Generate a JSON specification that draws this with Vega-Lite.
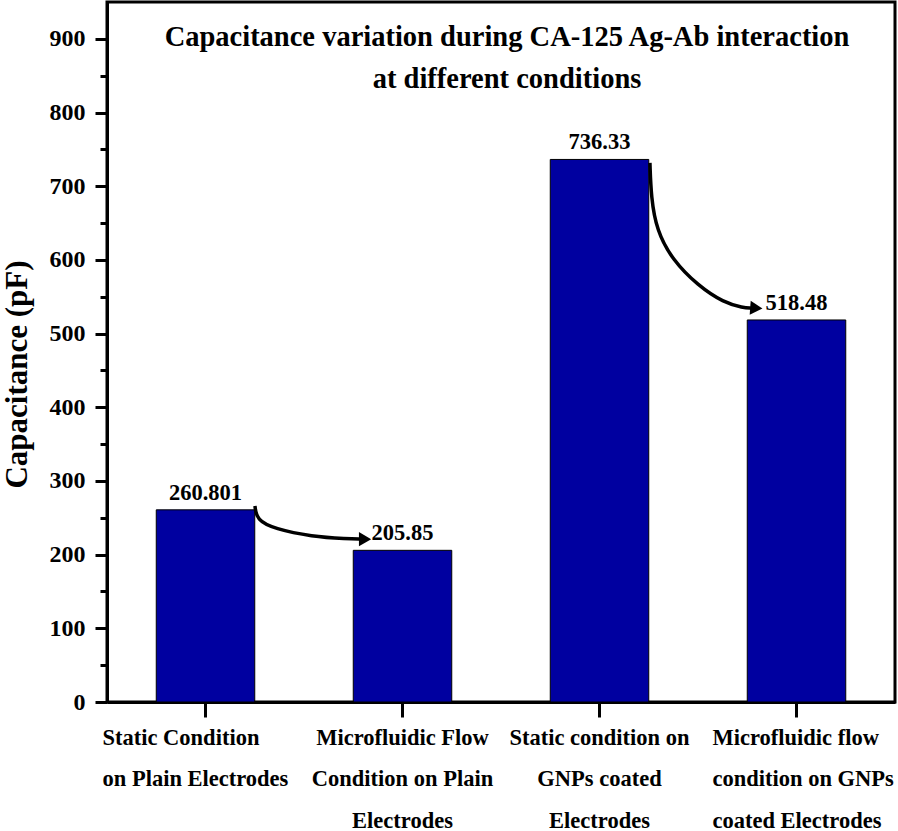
{
  "$schema": "https://vega.github.io/schema/vega-lite/v6.json",
  "width": 788,
  "height": 700,
  "autosize": {"type": "none"},
  "padding": {"left": 107, "top": 2, "right": 3, "bottom": 129},
  "background": "white",
  "config": {
    "font": "Liberation Serif",
    "view": {"stroke": "black", "strokeWidth": 3},
    "axis": {"domainColor": "black", "tickColor": "black", "labelColor": "black", "titleColor": "black", "grid": false}
  },
  "title": {
    "text": ["Capacitance variation during CA-125 Ag-Ab interaction", "at different conditions"],
    "font": "Liberation Serif",
    "fontSize": 28.5,
    "fontWeight": "bold",
    "lineHeight": 42,
    "color": "black",
    "anchor": "middle",
    "baseline": "bottom",
    "offset": -120,
    "dx": 6
  },
  "datasets": {
    "bars": [
      {"cond": "Static Condition|on Plain Electrodes", "cap": 260.801, "label": "260.801"},
      {"cond": "Microfluidic Flow|Condition on Plain|Electrodes", "cap": 205.85, "label": "205.85"},
      {"cond": "Static condition on|GNPs coated|Electrodes", "cap": 736.33, "label": "736.33"},
      {"cond": "Microfluidic flow|condition on GNPs|coated Electrodes", "cap": 518.48, "label": "518.48"}
    ],
    "arrows": [
      {"arrow": "A", "ax": 0.751, "ay": 266},
      {"arrow": "A", "ax": 0.76, "ay": 247},
      {"arrow": "A", "ax": 0.85, "ay": 235},
      {"arrow": "A", "ax": 1.04, "ay": 224.5},
      {"arrow": "A", "ax": 1.22, "ay": 221.5},
      {"arrow": "A", "ax": 1.29, "ay": 221},
      {"arrow": "B", "ax": 2.756, "ay": 731.6},
      {"arrow": "B", "ax": 2.762, "ay": 685},
      {"arrow": "B", "ax": 2.79, "ay": 640},
      {"arrow": "B", "ax": 2.87, "ay": 600},
      {"arrow": "B", "ax": 3.0, "ay": 565},
      {"arrow": "B", "ax": 3.13, "ay": 542},
      {"arrow": "B", "ax": 3.23, "ay": 535},
      {"arrow": "B", "ax": 3.27, "ay": 534.5}
    ],
    "heads": [
      {"arrow": "A", "ax": 1.31, "ay": 221, "ang": 0},
      {"arrow": "B", "ax": 3.296, "ay": 534.5, "ang": 4}
    ]
  },
  "layer": [
    {
      "data": {"name": "bars"},
      "mark": {"type": "bar", "color": "#0000A0", "stroke": "black", "strokeWidth": 1},
      "encoding": {
        "x": {
          "field": "cond", "type": "nominal", "sort": null,
          "scale": {"paddingInner": 0.5, "paddingOuter": 0.25},
          "axis": {
            "title": null, "tickSize": 15, "tickWidth": 3, "domainWidth": 3,
            "labelFont": "Liberation Serif", "labelFontSize": 22.5, "labelFontWeight": "bold",
            "labelLineHeight": 41.5, "labelPadding": 9, "labelAngle": 0, "labelBaseline": "top",
            "labelLimit": 0, "labelExpr": "split(datum.label, '|')",
            "labelAlign": {"condition": {"test": "indexof(datum.value, 'Static Condition') == 0 || indexof(datum.value, 'Microfluidic flow') == 0", "value": "left"}, "value": "center"},
            "labelOffset": {"condition": [{"test": "indexof(datum.value, 'Static Condition') == 0", "value": -103}, {"test": "indexof(datum.value, 'Microfluidic flow') == 0", "value": -84}], "value": 0}
          }
        },
        "y": {
          "field": "cap", "type": "quantitative",
          "scale": {"domain": [0, 950], "nice": false, "zero": true},
          "axis": {
            "orient": "left",
            "values": [0, 100, 200, 300, 400, 500, 600, 700, 800, 900],
            "tickSize": 12, "tickWidth": 3, "domainWidth": 3,
            "labelFont": "Liberation Serif", "labelFontSize": 24, "labelFontWeight": "bold", "labelPadding": 10,
            "title": "Capacitance (pF)", "titleFont": "Liberation Serif", "titleFontSize": 31, "titleFontWeight": "bold",
            "titleAngle": -90, "titleX": -81, "titleY": 372, "titleAlign": "center", "titleBaseline": "alphabetic"
          }
        }
      }
    },
    {
      "data": {"name": "bars"},
      "mark": {"type": "text", "dy": -10, "baseline": "alphabetic", "font": "Liberation Serif", "fontSize": 22.5, "fontWeight": "bold", "color": "black"},
      "encoding": {
        "x": {"field": "cond", "type": "nominal", "sort": null, "scale": {"paddingInner": 0.5, "paddingOuter": 0.25}, "axis": null},
        "y": {
          "field": "cap", "type": "quantitative",
          "axis": {"orient": "left", "values": [50, 150, 250, 350, 450, 550, 650, 750, 850], "tickSize": 7, "tickWidth": 3, "labels": false, "domain": false, "title": null}
        },
        "text": {"field": "label"}
      }
    },
    {
      "data": {"name": "arrows"},
      "mark": {"type": "line", "interpolate": "basis", "color": "black", "strokeWidth": 3.5},
      "encoding": {
        "x": {"field": "ax", "type": "quantitative", "scale": {"domain": [0, 4], "nice": false, "zero": false}, "axis": null},
        "y": {"field": "ay", "type": "quantitative", "axis": null},
        "detail": {"field": "arrow"}
      }
    },
    {
      "data": {"name": "heads"},
      "mark": {"type": "point", "shape": "triangle-right", "filled": true, "color": "black", "size": 200, "opacity": 1},
      "encoding": {
        "x": {"field": "ax", "type": "quantitative", "scale": {"domain": [0, 4], "nice": false, "zero": false}, "axis": null},
        "y": {"field": "ay", "type": "quantitative", "axis": null},
        "angle": {"field": "ang", "type": "quantitative", "scale": null}
      }
    }
  ],
  "resolve": {"scale": {"x": "independent"}, "axis": {"x": "independent", "y": "independent"}}
}
